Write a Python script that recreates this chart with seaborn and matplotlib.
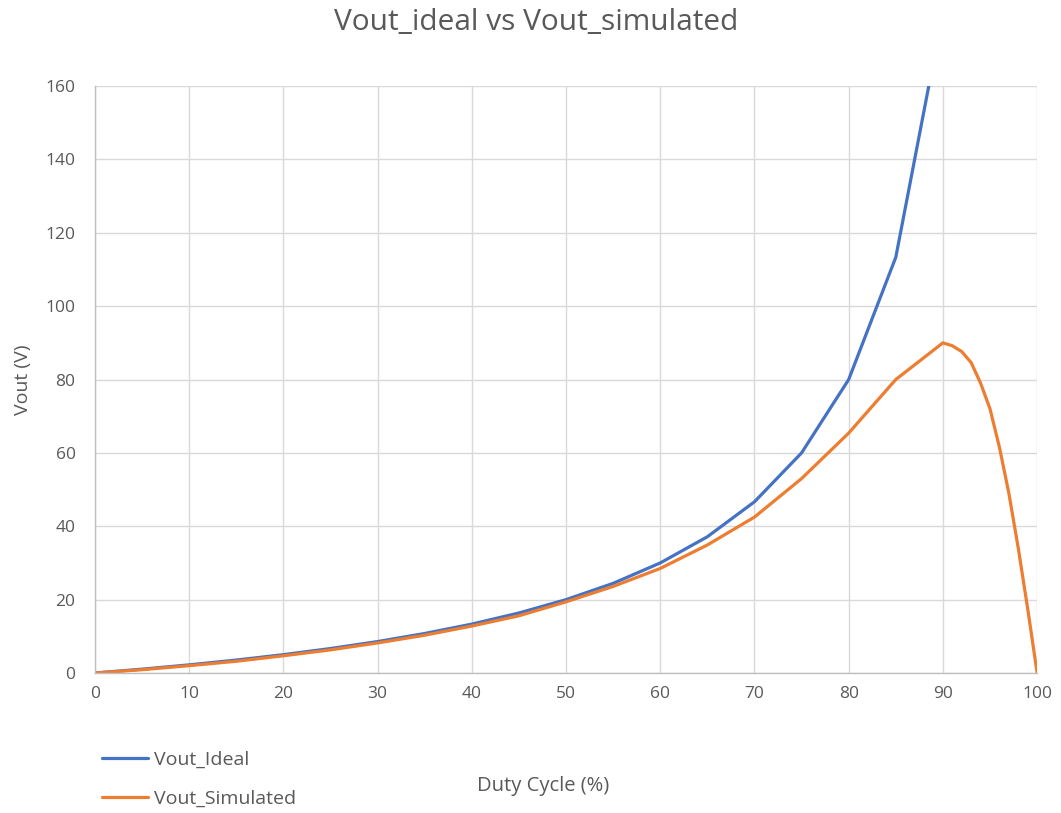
import matplotlib
matplotlib.use("Agg")
import matplotlib.pyplot as plt
import seaborn as sns
import pandas as pd
from matplotlib.lines import Line2D

# Duty cycle sweep (%) and output voltage (V)
duty_ideal = [0, 5, 10, 15, 20, 25, 30, 35, 40, 45, 50, 55, 60, 65, 70, 75, 80, 85, 90]
vout_ideal = [0, 1.05, 2.22, 3.53, 5.0, 6.67, 8.57, 10.77, 13.33, 16.36, 20.0,
              24.44, 30.0, 37.14, 46.67, 60.0, 80.0, 113.33, 180.0]

duty_sim = [0, 5, 10, 15, 20, 25, 30, 35, 40, 45, 50, 55, 60, 65, 70, 75, 80, 85,
            90, 91, 92, 93, 94, 95, 96, 97, 98, 99, 100]
vout_sim = [0, 0.9, 2.0, 3.2, 4.7, 6.3, 8.2, 10.3, 12.8, 15.6, 19.4, 23.6, 28.5,
            34.9, 42.5, 53.0, 65.4, 80.0, 90.0, 89.2, 87.6, 84.6, 79.0, 72.0,
            61.5, 49.0, 34.0, 17.5, 0.0]

series_names = ["Vout_Ideal", "Vout_Simulated"]
colors = ["#4472C4", "#ED7D31"]

df = pd.concat([
    pd.DataFrame({"duty": duty_ideal, "vout": vout_ideal, "series": series_names[0]}),
    pd.DataFrame({"duty": duty_sim, "vout": vout_sim, "series": series_names[1]}),
])

sns.set_style("white")
plt.rcParams["font.family"] = ["Open Sans", "DejaVu Sans"]
text_color = "#595959"

fig = plt.figure(figsize=(10.61, 8.13), dpi=100)
ax = fig.add_axes([0.0895, 0.1722, 0.888, 0.722])

sns.lineplot(data=df, x="duty", y="vout", hue="series", hue_order=series_names,
             palette=colors, linewidth=2.3, ax=ax, legend=False, sort=False)

ax.set_xlim(0, 100)
ax.set_ylim(0, 160)
ax.set_xticks(range(0, 101, 10))
ax.set_yticks(range(0, 161, 20))
ax.grid(True, color="#d9d9d9", linewidth=1.0)
ax.set_axisbelow(True)
for side in ["top", "right"]:
    ax.spines[side].set_visible(False)
for side in ["left", "bottom"]:
    ax.spines[side].set_color("#bfbfbf")
    ax.spines[side].set_linewidth(1.0)
ax.tick_params(axis="both", length=0, labelsize=12.5, colors=text_color)
ax.tick_params(axis="x", pad=9)
ax.tick_params(axis="y", pad=14)

ax.set_xlabel("")
ax.set_ylabel("Vout (V)", fontsize=14, color=text_color, labelpad=10)
fig.text(0.512, 0.033, "Duty Cycle (%)", ha="center", va="center",
         fontsize=14.5, color=text_color)
fig.suptitle("Vout_ideal vs Vout_simulated", x=0.505, y=0.972, va="center",
             fontsize=21.5, color=text_color)

handles = [Line2D([0], [0], color=c, linewidth=2.3) for c in colors]
fig.legend(handles, series_names, loc="center left", bbox_to_anchor=(0.0795, 0.0418),
           frameon=False, fontsize=14, labelcolor=text_color, handlelength=2.37,
           handletextpad=0.3, labelspacing=1.06)

fig.savefig("out.png", dpi=100)
